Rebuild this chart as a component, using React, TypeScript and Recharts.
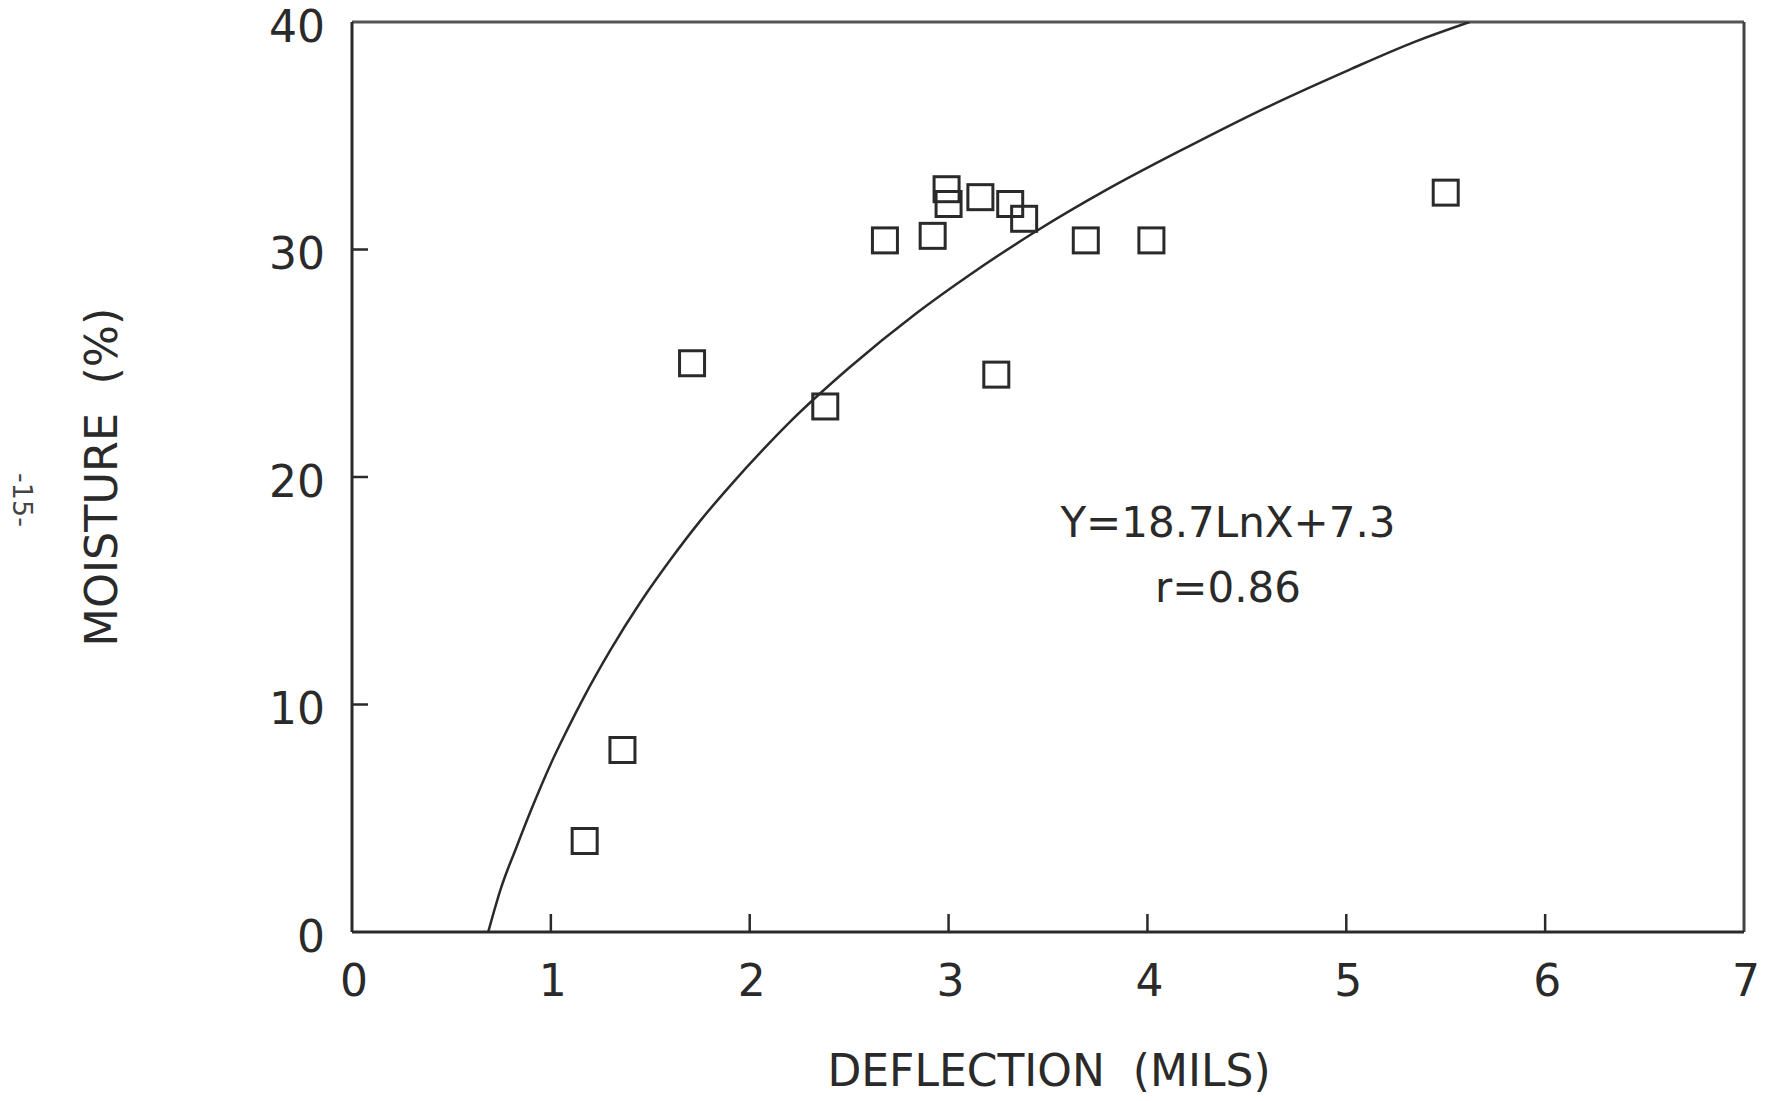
import React from 'react';
import { ComposedChart, XAxis, YAxis, Scatter, Line, ReferenceLine } from 'recharts';

// Measured data points (deflection in mils, moisture %)
const pointDeflection = [2.99, 3.0, 3.16, 3.31, 3.38, 2.68, 2.92, 3.69, 4.02, 3.24, 2.38, 1.71, 1.36, 1.17, 5.5];
const pointMoisture = [32.65, 32.0, 32.3, 32.0, 31.35, 30.4, 30.6, 30.4, 30.4, 24.5, 23.1, 25.0, 8.0, 4.0, 32.5];

// Fitted curve (Y = 18.7 Ln X + 7.3)
const curveX = [0.685, 0.75, 0.828, 0.9, 1.0, 1.08, 1.163, 1.3, 1.447, 1.6, 1.749, 1.9, 2.067, 2.2, 2.5, 2.838, 3.1, 3.44, 3.8, 4.178, 4.6, 5.015, 5.35, 5.62];
const curveY = [0, 1.95, 3.75, 5.35, 7.4, 8.85, 10.27, 12.4, 14.45, 16.35, 18.05, 19.6, 21.2, 22.4, 24.8, 27.2, 28.85, 30.8, 32.65, 34.4, 36.25, 37.9, 39.15, 40];

const xTicks = [0, 1, 2, 3, 4, 5, 6, 7];
const yTicks = [0, 10, 20, 30, 40];

const xTitle = 'DEFLECTION  (MILS)';
const yTitle = 'MOISTURE  (%)';
const equationText = 'Y=18.7LnX+7.3';
const rText = 'r=0.86';
const pageNumber = '-15-';

const points = pointDeflection.map((x, i) => ({ x, y: pointMoisture[i] }));
const curve = curveX.map((x, i) => ({ x, y: curveY[i] }));

const FONT = '"DejaVu Sans", Verdana, sans-serif';
const INK = '#2a2a2a';

const SquareShape = (props: any) => {
  const { cx, cy } = props;
  if (cx == null || cy == null) return null;
  const s = 25;
  return <rect x={cx - s / 2} y={cy - s / 2} width={s} height={s} fill="none" stroke={INK} strokeWidth={3} />;
};

const YTick = (props: any) => {
  const { x, y, payload } = props;
  const v = payload.value;
  const inner = v > 0 && v < 40;
  return (
    <g>
      {inner && <line x1={x} y1={y} x2={x + 16} y2={y} stroke={INK} strokeWidth={2.5} />}
      <text x={x - 27} y={y + 4} textAnchor="end" dominantBaseline="central" fontFamily={FONT} fontSize={44} fill={INK}>
        {v}
      </text>
    </g>
  );
};

const XTick = (props: any) => {
  const { x, y, payload } = props;
  const v = payload.value;
  const inner = v > 0 && v < 7;
  return (
    <g>
      {inner && <line x1={x} y1={y} x2={x} y2={y - 18} stroke={INK} strokeWidth={2.5} />}
      <text x={x + 2} y={y + 64} textAnchor="middle" fontFamily={FONT} fontSize={44} fill={INK}>
        {v}
      </text>
    </g>
  );
};

export default function App() {
  return (
    <div style={{ position: 'fixed', left: 0, top: 0, width: 1773, height: 1101, background: '#fff' }}>
      <ComposedChart width={1773} height={1101} margin={{ top: 22, right: 29, bottom: 0, left: 0 }}>
        <XAxis
          dataKey="x"
          type="number"
          domain={[0, 7]}
          ticks={xTicks}
          allowDataOverflow
          height={169}
          tickSize={0}
          tickMargin={0}
          tickLine={false}
          axisLine={{ stroke: INK, strokeWidth: 3 }}
          tick={(p: any) => <XTick {...p} />}
        />
        <YAxis
          dataKey="y"
          type="number"
          domain={[0, 40]}
          ticks={yTicks}
          allowDataOverflow
          width={352}
          tickSize={0}
          tickMargin={0}
          tickLine={false}
          axisLine={{ stroke: INK, strokeWidth: 3 }}
          tick={(p: any) => <YTick {...p} />}
        />
        <ReferenceLine y={40} stroke="#555" strokeWidth={3} />
        <ReferenceLine x={7} stroke="#444" strokeWidth={3} />
        <Line
          data={curve}
          dataKey="y"
          type="monotone"
          dot={false}
          activeDot={false}
          stroke={INK}
          strokeWidth={2.5}
          isAnimationActive={false}
        />
        <Scatter data={points} dataKey="y" shape={(p: any) => <SquareShape {...p} />} isAnimationActive={false} />
      </ComposedChart>
      <svg width={1773} height={1101} style={{ position: 'absolute', left: 0, top: 0, pointerEvents: 'none' }}>
        <text x={1228} y={537} textAnchor="middle" fontFamily={FONT} fontSize={42} fill={INK}>
          {equationText}
        </text>
        <text x={1228} y={602} textAnchor="middle" fontFamily={FONT} fontSize={42} fill={INK}>
          {rText}
        </text>
        <text x={1049} y={1086} textAnchor="middle" fontFamily={FONT} fontSize={44} fill={INK} style={{ whiteSpace: 'pre' }}>
          {xTitle}
        </text>
        <text
          x={0}
          y={0}
          transform="translate(117,477) rotate(-90)"
          textAnchor="middle"
          fontFamily={FONT}
          fontSize={44.5}
          fill={INK}
          style={{ whiteSpace: 'pre' }}
        >
          {yTitle}
        </text>
        <text
          x={0}
          y={0}
          transform="translate(13,500) rotate(90)"
          textAnchor="middle"
          fontFamily={FONT}
          fontSize={27}
          fill="#444"
        >
          {pageNumber}
        </text>
      </svg>
    </div>
  );
}
